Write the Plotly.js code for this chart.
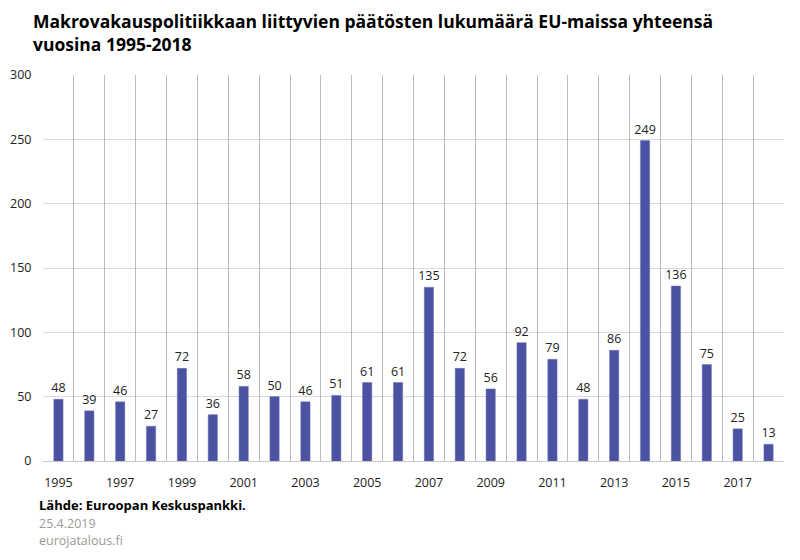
<!DOCTYPE html>
<html><head><meta charset="utf-8">
<script src="https://cdn.plot.ly/plotly-3.0.1.min.js"></script>
<style>body{margin:0;background:#fff}#c{width:800px;height:560px}</style>
</head><body><div id="c"></div>
<script>
const years = [1995,1996,1997,1998,1999,2000,2001,2002,2003,2004,2005,2006,2007,2008,2009,2010,2011,2012,2013,2014,2015,2016,2017,2018];
const decisions = [48,39,46,27,72,36,58,50,46,51,61,61,135,72,56,92,79,48,86,249,136,75,25,13];
const tickYears = [1995,1997,1999,2001,2003,2005,2007,2009,2011,2013,2015,2017];
const boundaries = years.map(y => y - 0.5).concat([years[years.length-1] + 0.5]);
const titleText = "Makrovakauspolitiikkaan liittyvien päätösten lukumäärä EU-maissa yhteensä<br>vuosina 1995-2018";
const sourceText = "Lähde: Euroopan Keskuspankki.";
const dateText = "25.4.2019";
const siteText = "eurojatalous.fi";

const font = "Open Sans, Liberation Sans, sans-serif";
const data = [{
  type: "bar", x: years, y: decisions, width: 0.3,
  marker: {color: "#4b52a1", line: {color: "#6d73b5", width: 0.5}},
  text: decisions.map(String), textposition: "outside", cliponaxis: false, constraintext: "none",
  textfont: {family: font, size: 12.5, color: "#222"},
  hoverinfo: "x+y"
}];
// invisible trace on xaxis2 so its boundary gridlines render
data.push({type: "scatter", x: [1994.5], y: [0], xaxis: "x2", mode: "markers", marker: {opacity: 0}, hoverinfo: "skip"});
const layout = {
  width: 800, height: 560, margin: {l: 43, r: 16, t: 75, b: 99},
  paper_bgcolor: "#fff", plot_bgcolor: "#fff", showlegend: false,
  xaxis: {range: [1994.5, 2018.5], tickvals: tickYears, ticktext: tickYears.map(String),
    showgrid: false, zeroline: false, showline: false, ticks: "outside", ticklen: 10, tickcolor: "rgba(0,0,0,0)",
    tickfont: {family: font, size: 12.5, color: "#222"}},
  xaxis2: {overlaying: "x", matches: "x", range: [1994.5, 2018.5], tickvals: boundaries,
    showticklabels: false, showgrid: true, gridcolor: "#bcbcbc", gridwidth: 1, zeroline: false, ticks: ""},
  yaxis: {range: [0, 300], dtick: 50, gridcolor: "#dadada", zeroline: true, zerolinecolor: "#c8c8c8",
    showline: false, ticks: "outside", ticklen: 8, tickcolor: "rgba(0,0,0,0)",
    tickfont: {family: font, size: 12.5, color: "#222"}},
  annotations: [
    {text: "<b>" + titleText + "</b>", xref: "paper", yref: "paper", x: -0.016, y: 1.175, xanchor: "left", yanchor: "top", align: "left", showarrow: false, font: {family: font, size: 17.5, color: "#000"}},
    {text: "<b>" + sourceText + "</b>", xref: "paper", yref: "paper", x: -0.008, y: -0.085, xanchor: "left", yanchor: "top", showarrow: false, font: {family: font, size: 13, color: "#000"}},
    {text: dateText, xref: "paper", yref: "paper", x: -0.008, y: -0.135, xanchor: "left", yanchor: "top", showarrow: false, font: {family: font, size: 12.5, color: "#9a9a9a"}},
    {text: siteText, xref: "paper", yref: "paper", x: -0.008, y: -0.18, xanchor: "left", yanchor: "top", showarrow: false, font: {family: font, size: 12.5, color: "#9a9a9a"}}
  ]
};
Plotly.newPlot("c", data, layout, {displayModeBar: false, staticPlot: true});
</script></body></html>
